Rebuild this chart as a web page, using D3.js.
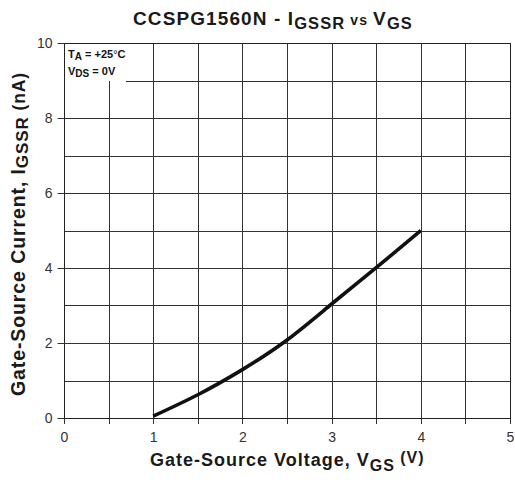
<!DOCTYPE html>
<html><head><meta charset="utf-8">
<script src="https://cdn.jsdelivr.net/npm/d3@7"></script>
<style>
body{margin:0;background:#fff;}
svg{display:block;font-family:"Liberation Sans",Arial,Helvetica,sans-serif;}
</style></head><body>
<svg id="chart" width="515" height="483"></svg>
<script>
// Data
const vgs = [1, 1.5, 2, 2.5, 3, 3.5, 4];
const igssr = [0.05, 0.62, 1.29, 2.08, 3.04, 4.01, 5.0];
const xTickLabels = [0, 1, 2, 3, 4, 5];
const yTickLabels = [0, 2, 4, 6, 8, 10];
const xGridValues = [0, 0.5, 1, 1.5, 2, 2.5, 3, 3.5, 4, 4.5, 5];
const yGridValues = [0, 1, 2, 3, 4, 5, 6, 7, 8, 9, 10];

const svg = d3.select("#chart");
const L = 64, R = 510, T = 43, B = 418;
const x = d3.scaleLinear().domain([0, 5]).range([L, R]);
const y = d3.scaleLinear().domain([0, 10]).range([B, T]);

// legend box region (grid hidden there)
const boxR = 126, boxB = 81;

// grid lines
const grid = svg.append("g").attr("shape-rendering", "crispEdges");
xGridValues.forEach(v => {
  const px = Math.round(x(v)) + 0.5;
  const top = (px < boxR) ? boxB : T;
  grid.append("line").attr("x1", px).attr("x2", px).attr("y1", top).attr("y2", B + 6)
    .attr("stroke", "#333").attr("stroke-width", 1);
});
yGridValues.forEach(v => {
  const py = Math.round(y(v)) + 0.5;
  const left = (py < boxB + 1 && py > T + 1) ? boxR : L;
  grid.append("line").attr("x1", left).attr("x2", R).attr("y1", py).attr("y2", py)
    .attr("stroke", "#333").attr("stroke-width", 1);
});

// frame
grid.append("rect").attr("x", Math.round(L) + 0.5).attr("y", Math.round(T) + 0.5)
  .attr("width", Math.round(R) - Math.round(L)).attr("height", Math.round(B) - Math.round(T))
  .attr("fill", "none").attr("stroke", "#222").attr("stroke-width", 1.2);

// y axis ticks & labels
const yAxis = d3.axisLeft(y).tickValues(yTickLabels).tickSize(7).tickPadding(5).tickFormat(d3.format("d"));
const gy = svg.append("g").attr("transform", `translate(${Math.round(L)+0.5},0)`).call(yAxis);
gy.select(".domain").remove();
gy.selectAll(".tick line").attr("stroke", "#333");
gy.selectAll(".tick text").attr("font-size", 14).attr("fill", "#333")
  .attr("font-family", "Liberation Sans, Arial, sans-serif");

// x axis ticks & labels
const xAxis = d3.axisBottom(x).tickValues(xTickLabels).tickSize(0).tickPadding(14).tickFormat(d3.format("d"));
const gx = svg.append("g").attr("transform", `translate(0,${Math.round(B)+0.5})`).call(xAxis);
gx.select(".domain").remove();
gx.selectAll(".tick text").attr("font-size", 14).attr("fill", "#333")
  .attr("font-family", "Liberation Sans, Arial, sans-serif");

// curve
const line = d3.line().x((d, i) => x(vgs[i])).y(d => y(d)).curve(d3.curveNatural);
svg.append("path").datum(igssr).attr("d", line)
  .attr("fill", "none").attr("stroke", "#111").attr("stroke-width", 3.6)
  .attr("stroke-linecap", "butt").attr("stroke-linejoin", "round");

// legend
const lg = svg.append("g").attr("font-weight", "bold").attr("fill", "#111");
const t1 = lg.append("text").attr("x", 68).attr("y", 58).attr("font-size", 11);
t1.append("tspan").text("T");
t1.append("tspan").attr("dy", 2).attr("font-size", 10).text("A");
t1.append("tspan").attr("dy", -2).text(" = +25");
t1.append("tspan").attr("font-weight", "normal").text("°");
t1.append("tspan").text("C");
const t2 = lg.append("text").attr("x", 68).attr("y", 75).attr("font-size", 11);
t2.append("tspan").text("V");
t2.append("tspan").attr("dy", 2).attr("font-size", 10).text("DS");
t2.append("tspan").attr("dy", -2).text(" = 0V");

// title
const title = svg.append("text").attr("x", 273).attr("y", 25).attr("text-anchor", "middle")
  .attr("font-weight", "bold").attr("font-size", 19).attr("letter-spacing", 1.1).attr("fill", "#1a1a1a");
title.append("tspan").text("CCSPG1560N - I");
title.append("tspan").attr("dy", 4).attr("font-size", 16.5).text("GSSR");
title.append("tspan").attr("dy", -4).attr("font-size", 14).text(" vs ");
title.append("tspan").attr("font-size", 19).text("V");
title.append("tspan").attr("dy", 4).attr("font-size", 16.5).text("GS");

// x axis title
const xt = svg.append("text").attr("x", 150).attr("y", 466)
  .attr("font-weight", "bold").attr("font-size", 18).attr("letter-spacing", 1.0).attr("fill", "#1a1a1a");
xt.append("tspan").text("Gate-Source Voltage, V");
xt.append("tspan").attr("dy", 5).attr("font-size", 16).text("GS");
xt.append("tspan").attr("dy", -8).attr("font-size", 16).text(" (V)");

// y axis title
const yt = svg.append("text").attr("transform", "translate(25,396) rotate(-90)")
  .attr("font-weight", "bold").attr("font-size", 19.5).attr("letter-spacing", 0.9).attr("fill", "#1a1a1a");
yt.append("tspan").text("Gate-Source Current, I");
yt.append("tspan").attr("dy", 3).attr("font-size", 17).text("GSSR");
yt.append("tspan").attr("dy", -3).attr("font-size", 17.5).text(" (nA)");
</script>
</body></html>
